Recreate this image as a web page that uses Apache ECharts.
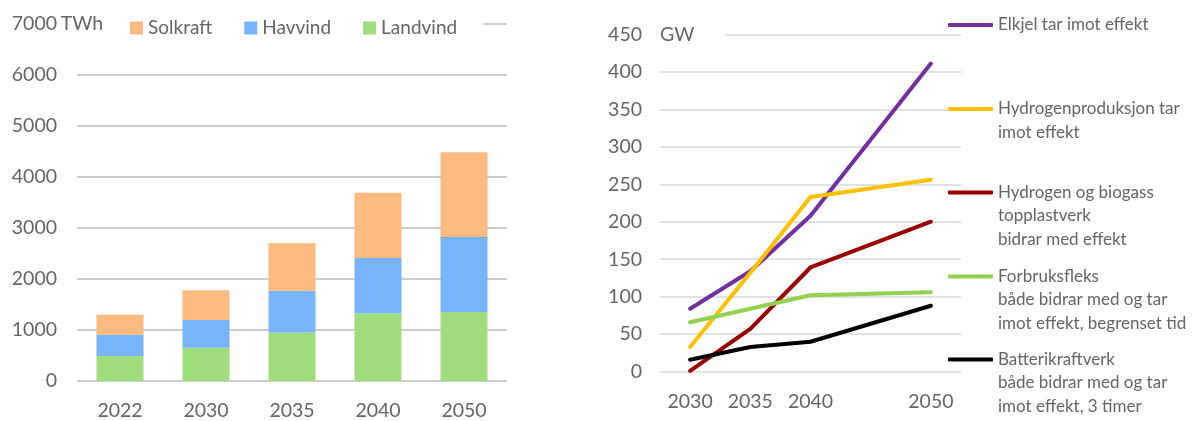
<!DOCTYPE html>
<html>
<head>
<meta charset="utf-8">
<script src="https://cdn.jsdelivr.net/npm/echarts@6/dist/echarts.min.js"></script>
<style>
  html, body { margin: 0; padding: 0; background: #fff; }
  #chart { width: 1192px; height: 421px; }
</style>
</head>
<body>
<div id="chart"></div>
<script>
// Annual production (TWh) by source
const years = ['2022', '2030', '2035', '2040', '2050'];
const landvind = [490, 650, 950, 1325, 1350];
const havvind = [415, 545, 815, 1080, 1470];
const solkraft = [390, 580, 930, 1280, 1655];

// Flexible capacity (GW) by technology
const capYears = [2030, 2035, 2040, 2050];
const elkjel = [84, 134, 208, 411];
const hydrogenProd = [33, 132, 233, 256];
const hydrogenBiogass = [1, 57, 139, 200];
const forbruksfleks = [66, 84, 102, 106];
const batteri = [16, 33, 40, 88];

// Legend text, one entry per line
const capLabels = [
  ['Elkjel tar imot effekt'],
  ['Hydrogenproduksjon tar', 'imot effekt'],
  ['Hydrogen og biogass', 'topplastverk', 'bidrar med effekt'],
  ['Forbruksfleks', 'både bidrar med og tar', 'imot effekt, begrenset tid'],
  ['Batterikraftverk', 'både bidrar med og tar', 'imot effekt, 3 timer']
];
const capValues = [elkjel, hydrogenProd, hydrogenBiogass, forbruksfleks, batteri];
const capColors = ['#7030A0', '#FFC000', '#990000', '#92D050', '#000000'];

const textColor = '#666466';
const font = 'Lato';
const legendLineHeight = 23.5;
const legendIconY = [25, 109, 192.5, 276.5, 359.5];

const chart = echarts.init(document.getElementById('chart'), null, { renderer: 'canvas' });

const capSeries = capValues.map((vals, i) => ({
  name: capLabels[i].join(' '),
  type: 'line',
  xAxisIndex: 1,
  yAxisIndex: 1,
  data: capYears.map((y, k) => [y, vals[k]]),
  symbol: 'none',
  lineStyle: { width: 4, color: capColors[i], cap: 'round', join: 'round' },
  itemStyle: { color: capColors[i] },
  animation: false
}));

// Each legend entry is its own component so the icon sits beside the first text line;
// blank leading lines keep the first line centred on the icon.
const capLegends = capLabels.map((lines, i) => {
  const n = lines.length;
  return {
    data: [lines.join(' ')],
    orient: 'vertical',
    left: 948,
    top: legendIconY[i] - (2 * n - 1) * legendLineHeight / 2,
    padding: 0,
    itemWidth: 45,
    itemHeight: 4,
    icon: 'roundRect',
    formatter: () => '\n'.repeat(n - 1) + lines.join('\n'),
    textStyle: {
      fontFamily: font,
      fontSize: 17,
      color: textColor,
      lineHeight: legendLineHeight
    }
  };
});

const option = {
  animation: false,
  textStyle: { fontFamily: font },
  grid: [
    { left: 77, top: 23.3, width: 430, height: 359 },
    { left: 660, top: 34.3, width: 301, height: 337.4 }
  ],
  legend: [
    {
      data: ['Solkraft', 'Havvind', 'Landvind'],
      left: 104,
      top: 14,
      icon: 'rect',
      itemWidth: 13,
      itemHeight: 13,
      itemGap: 32,
      backgroundColor: '#fff',
      padding: [4, 26, 4, 26],
      textStyle: { fontFamily: font, fontSize: 19, color: textColor, lineHeight: 20 }
    }
  ].concat(capLegends),
  xAxis: [
    {
      type: 'category',
      gridIndex: 0,
      data: years,
      axisLine: { show: false },
      axisTick: { show: false },
      axisLabel: { fontSize: 19.5, color: textColor, margin: 20 }
    },
    {
      type: 'value',
      gridIndex: 1,
      min: 2027.5,
      max: 2052.5,
      axisLine: { show: false },
      axisTick: { show: false },
      splitLine: { show: false },
      axisLabel: {
        customValues: capYears,
        formatter: v => String(v),
        fontSize: 19.5,
        color: textColor,
        margin: 20
      }
    }
  ],
  yAxis: [
    {
      type: 'value',
      gridIndex: 0,
      min: 0,
      max: 7000,
      interval: 1000,
      name: 'TWh',
      nameLocation: 'end',
      nameGap: 0,
      nameMoveOverlap: false,
      nameTextStyle: {
        fontSize: 19.5, color: textColor, align: 'center', verticalAlign: 'middle',
        backgroundColor: '#fff', padding: [3, 2, 3, 12]
      },
      axisLine: { show: false },
      axisTick: { show: false },
      axisLabel: { fontSize: 19.5, color: textColor, margin: 20, formatter: v => String(v) },
      splitLine: { lineStyle: { color: '#bdbdbd', width: 1.5 } }
    },
    {
      type: 'value',
      gridIndex: 1,
      min: 0,
      max: 450,
      interval: 50,
      name: 'GW',
      nameLocation: 'end',
      nameGap: 0,
      nameMoveOverlap: false,
      nameTextStyle: {
        fontSize: 19.5, color: textColor, align: 'left', verticalAlign: 'middle',
        backgroundColor: '#fff', padding: [3, 31, 3, 0]
      },
      axisLine: { show: false },
      axisTick: { show: false },
      axisLabel: { fontSize: 19.5, color: textColor, margin: 18, formatter: v => String(v) },
      splitLine: { lineStyle: { color: '#d9d9d9', width: 1.5 } }
    }
  ],
  series: [
    {
      name: 'Landvind', type: 'bar', stack: 'prod', data: landvind,
      xAxisIndex: 0, yAxisIndex: 0, barWidth: 47,
      itemStyle: { color: '#9FDD7D' }
    },
    {
      name: 'Havvind', type: 'bar', stack: 'prod', data: havvind,
      xAxisIndex: 0, yAxisIndex: 0, barWidth: 47,
      itemStyle: { color: '#78B4FB' }
    },
    {
      name: 'Solkraft', type: 'bar', stack: 'prod', data: solkraft,
      xAxisIndex: 0, yAxisIndex: 0, barWidth: 47,
      itemStyle: { color: '#FDBB7F' }
    }
  ].concat(capSeries)
};

chart.setOption(option);
</script>
</body>
</html>
